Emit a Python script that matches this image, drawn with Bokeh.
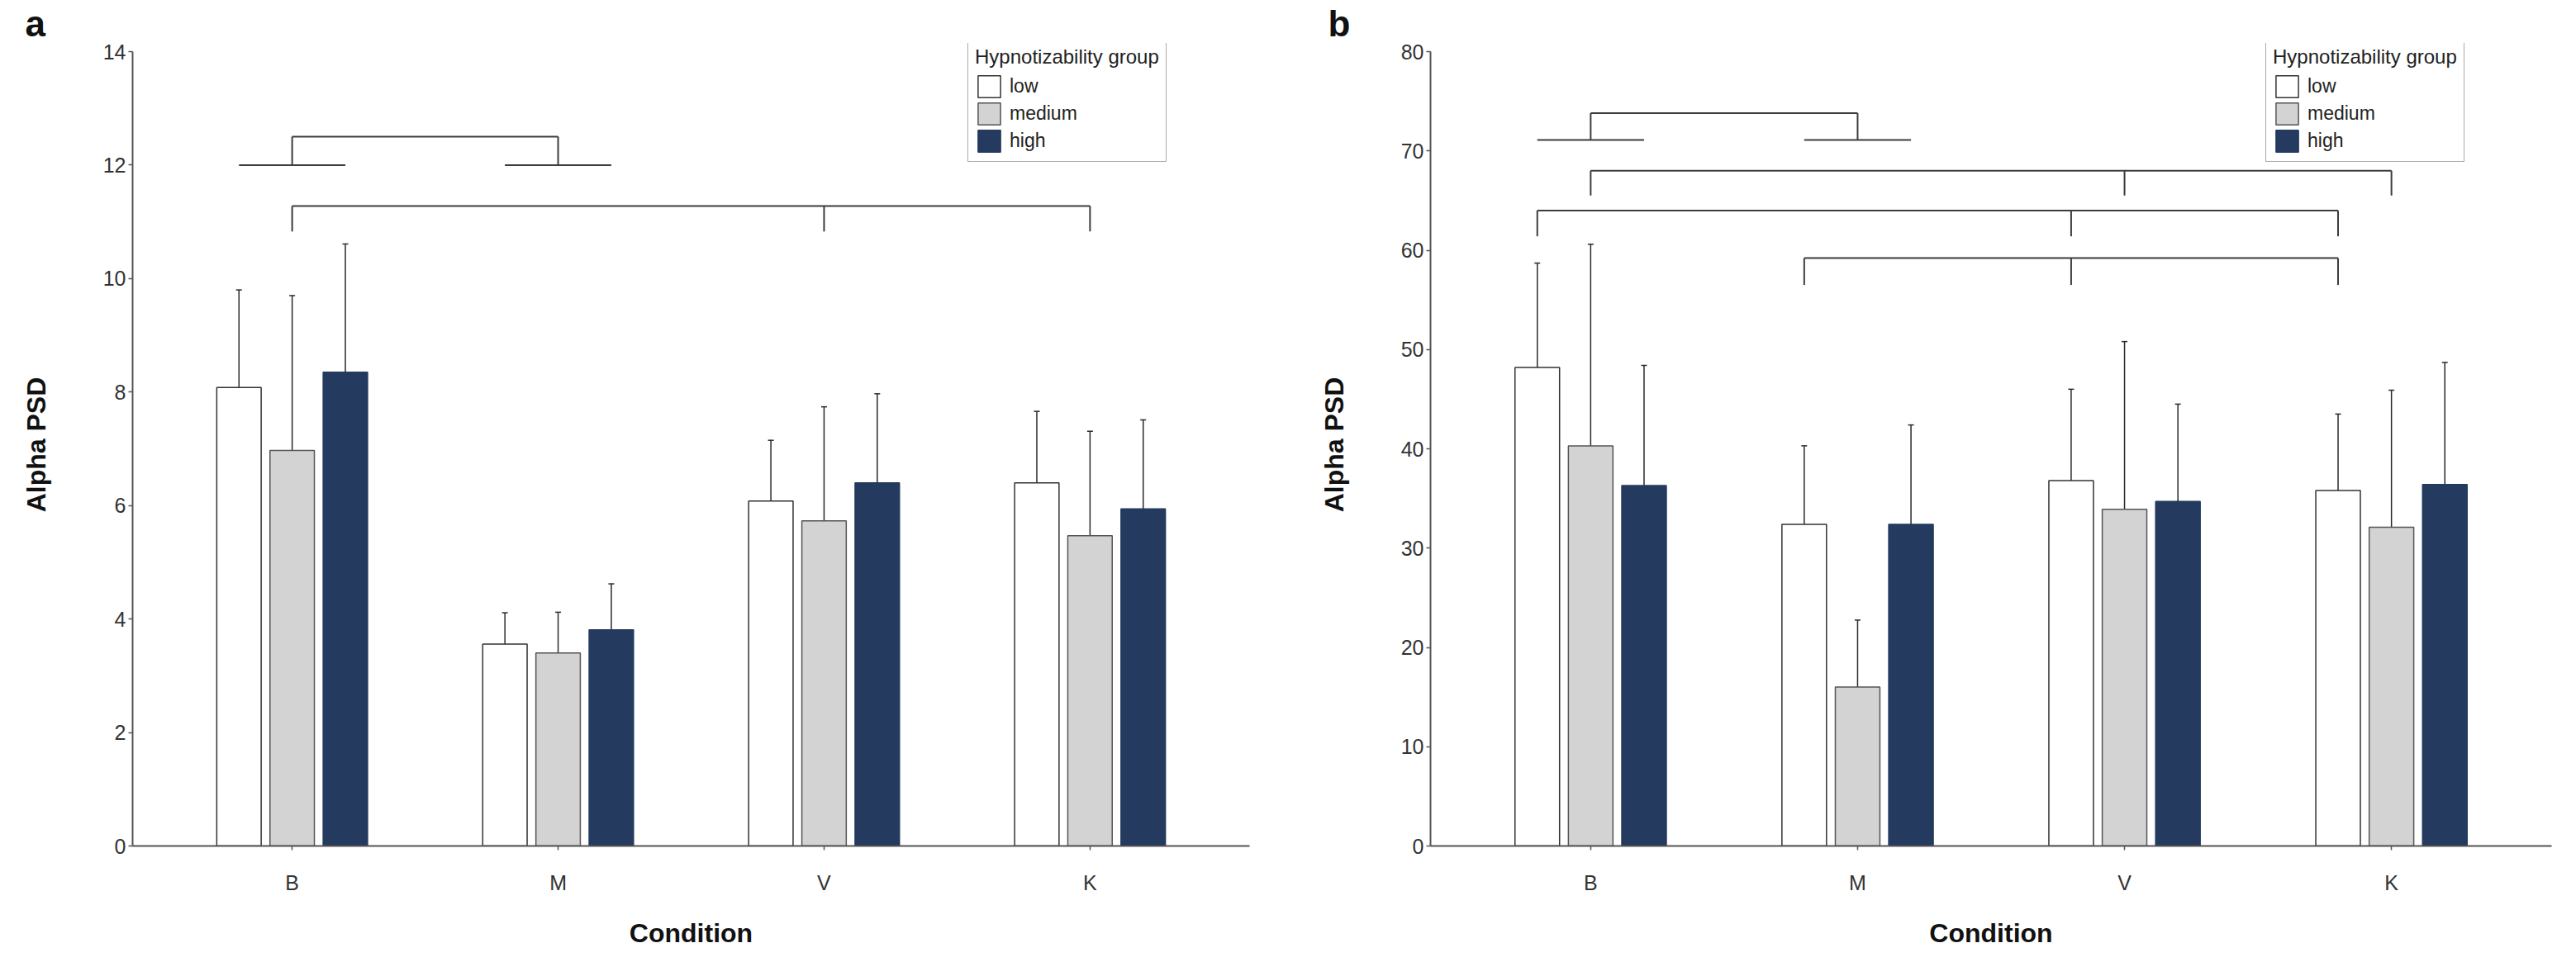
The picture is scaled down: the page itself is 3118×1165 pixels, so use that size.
from bokeh.plotting import figure
from bokeh.models import (ColumnDataSource, Whisker, TeeHead, Legend, LegendItem,
                          FixedTicker, Range1d)
from bokeh.layouts import row
from bokeh.embed import file_html
from bokeh.resources import INLINE

# ---------------- data ----------------
conditions = ["B", "M", "V", "K"]
groups = ["low", "medium", "high"]

# panel a : Alpha PSD (mean, sd)
a_low_mean = [8.08, 3.56, 6.08, 6.40]
a_low_sd = [1.72, 0.55, 1.07, 1.26]
a_med_mean = [6.97, 3.40, 5.73, 5.47]
a_med_sd = [2.73, 0.72, 2.01, 1.84]
a_high_mean = [8.35, 3.81, 6.40, 5.94]
a_high_sd = [2.26, 0.81, 1.57, 1.57]
a_ticks = [0, 2, 4, 6, 8, 10, 12, 14]

# panel b : Alpha PSD (mean, sd)
b_low_mean = [48.2, 32.4, 36.8, 35.8]
b_low_sd = [10.5, 7.9, 9.2, 7.7]
b_med_mean = [40.3, 16.0, 33.9, 32.1]
b_med_sd = [20.3, 6.75, 16.9, 13.8]
b_high_mean = [36.3, 32.4, 34.7, 36.4]
b_high_sd = [12.1, 10.0, 9.8, 12.3]
b_ticks = [0, 10, 20, 30, 40, 50, 60, 70, 80]

# significance brackets: anchors (condition, group or None), top height, leg bottom, span
a_brackets = [
    dict(anchors=[("B", None), ("M", None)], top=12.5, bottom=12.0, span=True),
    dict(anchors=[("B", None), ("V", None), ("K", None)], top=11.28, bottom=10.83, span=False),
]
b_brackets = [
    dict(anchors=[("B", None), ("M", None)], top=73.8, bottom=71.1, span=True),
    dict(anchors=[("B", None), ("V", None), ("K", None)], top=68.0, bottom=65.5, span=False),
    dict(anchors=[("B", "low"), ("V", "low"), ("K", "low")], top=64.0, bottom=61.4, span=False),
    dict(anchors=[("M", "low"), ("V", "low"), ("K", "low")], top=59.2, bottom=56.5, span=False),
]

# ---------------- style ----------------
FONT = "Liberation Sans"
offsets = [-0.2, 0.0, 0.2]
bar_w = 0.167
fills = ["#ffffff", "#d3d3d3", "#243a5e"]
outlines = ["#333333", "#555555", "#243a5e"]
AX = "#555555"


def xpos(cond, grp):
    i = conditions.index(cond) + 1
    return i + (offsets[groups.index(grp)] if grp else 0.0)


def make_panel(letter, letter_offset, ymax, ticks, means, sds, brackets,
               min_left, min_right, frame_w):
    y_end = ymax * 972.0 / 962.0
    p = figure(frame_width=frame_w, frame_height=972,
               x_range=Range1d(0.4, 4.6), y_range=Range1d(0, y_end),
               output_backend="svg", toolbar_location=None,
               min_border_left=min_left, min_border_right=min_right,
               min_border_top=52, min_border_bottom=135)
    p.outline_line_color = None
    p.xgrid.visible = False
    p.ygrid.visible = False
    p.background_fill_color = "white"

    # panel letter as the figure title
    p.title.text = letter
    p.title.align = "left"
    p.title.offset = letter_offset
    p.title.standoff = 0
    p.title.text_font = FONT
    p.title.text_font_size = "44px"
    p.title.text_font_style = "bold"
    p.title.text_color = "#111111"

    items = []
    for gi, g in enumerate(groups):
        m = means[gi]
        s = sds[gi]
        src = ColumnDataSource(dict(
            x=[xpos(c, g) for c in conditions],
            top=m,
            upper=[mm + ss for mm, ss in zip(m, s)],
            lower=[mm - ss for mm, ss in zip(m, s)],
        ))
        r = p.vbar(x="x", top="top", width=bar_w, bottom=0, source=src,
                   fill_color=fills[gi], line_color=outlines[gi], line_width=1.5)
        items.append(LegendItem(label=g, renderers=[r]))
        w = Whisker(source=src, base="x", upper="upper", lower="lower",
                    line_color="#2a2a2a", line_width=1.5,
                    upper_head=TeeHead(size=7, line_color="#2a2a2a", line_width=1.5),
                    lower_head=TeeHead(size=7, line_color="#2a2a2a", line_width=1.5))
        p.add_layout(w)

    x0, y0, x1, y1 = [], [], [], []
    for br in brackets:
        xs = [xpos(c, g) for c, g in br["anchors"]]
        x0.append(min(xs)); x1.append(max(xs)); y0.append(br["top"]); y1.append(br["top"])
        for xv in xs:
            x0.append(xv); x1.append(xv); y0.append(br["top"]); y1.append(br["bottom"])
        if br["span"]:
            for c, _ in br["anchors"]:
                x0.append(xpos(c, groups[0])); x1.append(xpos(c, groups[-1]))
                y0.append(br["bottom"]); y1.append(br["bottom"])
    p.segment(x0=x0, y0=y0, x1=x1, y1=y1, line_color="#3c3c3c", line_width=2)

    # axes
    p.xaxis.ticker = FixedTicker(ticks=[1, 2, 3, 4], minor_ticks=[])
    p.xaxis.major_label_overrides = {i + 1: c for i, c in enumerate(conditions)}
    p.yaxis.ticker = FixedTicker(ticks=ticks, minor_ticks=[])
    p.yaxis.bounds = (0, ymax)
    for ax in (p.xaxis, p.yaxis):
        ax.axis_line_color = AX
        ax.axis_line_width = 2
        ax.major_tick_line_color = AX
        ax.major_tick_line_width = 1.5
        ax.major_tick_in = 0
        ax.major_tick_out = 5
        ax.minor_tick_line_color = None
        ax.major_label_text_font = FONT
        ax.major_label_text_font_size = "25px"
        ax.major_label_text_color = "#333333"
        ax.axis_label_text_font = FONT
        ax.axis_label_text_font_size = "32px"
        ax.axis_label_text_font_style = "bold"
        ax.axis_label_text_color = "#111111"
    p.xaxis.major_label_standoff = 25
    p.xaxis.axis_label = "Condition"
    p.xaxis.axis_label_standoff = 26
    p.yaxis.major_label_standoff = 3
    p.yaxis.axis_label = "Alpha PSD"
    p.yaxis.axis_label_standoff = 60

    legend = Legend(items=items, title="Hypnotizability group", location=(1011, 828),
                    title_text_font=FONT, title_text_font_size="24px",
                    title_text_font_style="normal", title_text_color="#222222",
                    label_text_font=FONT, label_text_font_size="23px",
                    label_text_color="#222222",
                    glyph_width=34, glyph_height=33, label_height=26, spacing=-6,
                    padding=8, margin=0, title_standoff=5, label_standoff=8,
                    border_line_color=AX, border_line_width=1.5,
                    background_fill_color="white", background_fill_alpha=1.0)
    p.add_layout(legend)
    return p


pa = make_panel("a", -130, 14, a_ticks,
                [a_low_mean, a_med_mean, a_high_mean],
                [a_low_sd, a_med_sd, a_high_sd],
                a_brackets, 160, 73, 1352)
pb = make_panel("b", -124, 80, b_ticks,
                [b_low_mean, b_med_mean, b_high_mean],
                [b_low_sd, b_med_sd, b_high_sd],
                b_brackets, 146, 26, 1357)

layout = row(pa, pb)
open("out.html", "w").write(file_html(layout, INLINE))
